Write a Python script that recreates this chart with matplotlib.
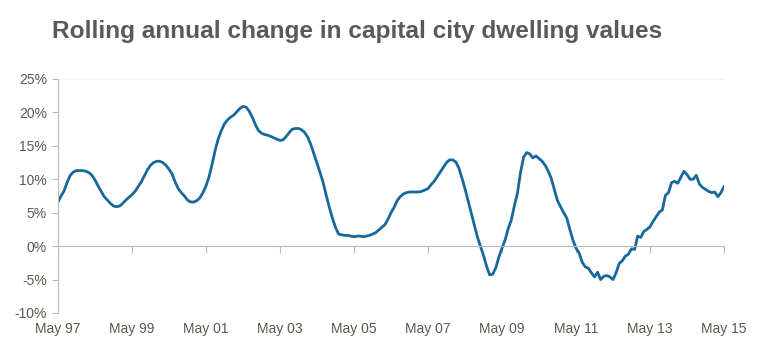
import matplotlib.pyplot as plt
import numpy as np

# monthly rolling annual change (%), May 97 .. May 15
values = [
    6.6, 7.5, 8.3, 9.6, 10.6, 11.1, 11.3, 11.3, 11.3, 11.2, 11.0, 10.6,
    9.9, 9.0, 8.2, 7.4, 6.9, 6.4, 6.0, 5.9, 6.0, 6.4, 6.9, 7.3,
    7.7, 8.2, 8.9, 9.6, 10.5, 11.4, 12.1, 12.5, 12.7, 12.7, 12.5, 12.1,
    11.5, 10.8, 9.6, 8.6, 8.0, 7.5, 6.9, 6.6, 6.6, 6.8, 7.2, 8.0,
    9.0, 10.4, 12.3, 14.4, 16.1, 17.3, 18.3, 18.9, 19.3, 19.6, 20.1, 20.6,
    20.9, 20.8, 20.2, 19.3, 18.2, 17.3, 16.9, 16.7, 16.6, 16.4, 16.2, 16.0,
    15.8, 15.9, 16.4, 17.0, 17.5, 17.6, 17.6, 17.4, 17.0, 16.3, 15.2, 13.8,
    12.4, 11.0, 9.5, 7.6, 5.8, 4.2, 2.8, 1.8, 1.7, 1.6, 1.6, 1.5,
    1.4, 1.5, 1.5, 1.4, 1.5, 1.6, 1.8, 2.0, 2.4, 2.8, 3.2, 4.0,
    5.0, 5.8, 6.8, 7.4, 7.8, 8.0, 8.1, 8.1, 8.1, 8.1, 8.2, 8.4,
    8.6, 9.2, 9.7, 10.4, 11.1, 11.8, 12.5, 12.9, 12.9, 12.6, 11.7, 10.2,
    8.6, 6.8, 5.0, 3.2, 1.4, 0.0, -1.4, -3.0, -4.3, -4.2, -3.2, -1.6,
    -0.3, 0.9, 2.6, 3.9, 6.0, 7.9, 11.0, 13.3, 14.0, 13.8, 13.2, 13.5,
    13.1, 12.7, 12.1, 11.2, 10.1, 8.4, 6.8, 5.9, 5.0, 4.2, 2.5, 0.9,
    -0.3, -1.0, -2.4, -3.1, -3.3, -4.0, -4.6, -3.9, -5.0, -4.5, -4.4, -4.6,
    -5.0, -4.0, -2.6, -2.2, -1.5, -1.2, -0.4, -0.5, 1.5, 1.3, 2.2, 2.5,
    2.9, 3.7, 4.4, 5.1, 5.4, 7.6, 8.0, 9.5, 9.7, 9.4, 10.3, 11.2,
    10.7, 10.0, 10.0, 10.6, 9.3, 8.8, 8.5, 8.2, 8.0, 8.1, 7.4, 8.0,
    8.9,
]
tick_labels = ["May 97", "May 99", "May 01", "May 03", "May 05",
               "May 07", "May 09", "May 11", "May 13", "May 15"]
y_ticks = [-10, -5, 0, 5, 10, 15, 20, 25]

plt.rcParams['font.family'] = ['Liberation Sans', 'DejaVu Sans']
txt = '#5a5a4f'
grey = '#b8b8b8'

fig = plt.figure(figsize=(7.65, 3.6), dpi=100)
ax = fig.add_axes([58/765, 1-313/360, (724-58)/765, (313-79)/360])

months = np.arange(len(values))
ax.plot(months, values, color='#17699b', lw=2.0, solid_joinstyle='round')

ax.set_xlim(0, 216)
ax.set_ylim(-10, 25)
ax.axhline(25, color='#f2f2f2', lw=0.8, zorder=0)

for s in ['top', 'right']:
    ax.spines[s].set_visible(False)
ax.spines['left'].set_color(grey)
ax.spines['bottom'].set_color(grey)
ax.spines['bottom'].set_position(('data', 0))

xt = np.arange(0, 217, 24)
ax.set_xticks(xt)
ax.set_xticklabels([])
ax.tick_params(axis='x', length=5, color=grey, direction='out')
for x, lab in zip(xt, tick_labels):
    ax.text(x, -0.04, lab, transform=ax.get_xaxis_transform(),
            ha='center', va='top', fontsize=10, color=txt)

ax.set_yticks(y_ticks)
ax.set_yticklabels([f"{v}%" for v in y_ticks], fontsize=10, color=txt)
ax.tick_params(axis='y', length=4, color=grey, pad=4)

fig.text(52/765, 1-38/360, "Rolling annual change in capital city dwelling values",
         fontsize=17.6, fontweight='bold', color='#595959', va='baseline', ha='left')

fig.savefig('out.png', dpi=100)
